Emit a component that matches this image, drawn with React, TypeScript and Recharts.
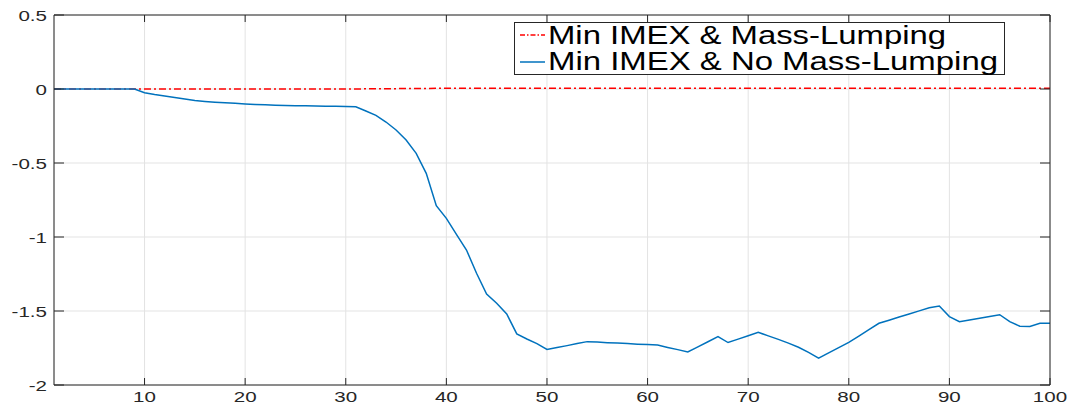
import React from 'react';
import { LineChart, Line, XAxis, YAxis, CartesianGrid, Legend } from 'recharts';

const xValues = [
  1, 2, 3, 4, 5, 6, 7, 8, 9, 10, 11, 12, 13, 14, 15, 16, 17, 18, 19, 20,
  21, 22, 23, 24, 25, 26, 27, 28, 29, 30, 31, 32, 33, 34, 35, 36, 37, 38, 39, 40,
  41, 42, 43, 44, 45, 46, 47, 48, 49, 50, 51, 52, 53, 54, 55, 56, 57, 58, 59, 60,
  61, 62, 63, 64, 65, 66, 67, 68, 69, 70, 71, 72, 73, 74, 75, 76, 77, 78, 79, 80,
  81, 82, 83, 84, 85, 86, 87, 88, 89, 90, 91, 92, 93, 94, 95, 96, 97, 98, 99, 100,
];

const massLumping = [
  0, 0, 0, 0, 0, 0, 0, 0, 0, 0, 0, 0, 0, 0, 0, 0, 0, 0, 0, 0,
  0, 0, 0, 0, 0, 0, 0, 0, 0, 0, 0.0005, 0.001, 0.0015, 0.002, 0.0025, 0.003, 0.0035, 0.004, 0.0045, 0.005,
  0.005, 0.005, 0.005, 0.005, 0.005, 0.005, 0.005, 0.005, 0.005, 0.005, 0.005, 0.005, 0.005, 0.005, 0.005, 0.005, 0.005, 0.005, 0.005, 0.005,
  0.005, 0.005, 0.005, 0.005, 0.005, 0.005, 0.005, 0.005, 0.005, 0.005, 0.005, 0.005, 0.005, 0.005, 0.005, 0.005, 0.005, 0.005, 0.005, 0.005,
  0.005, 0.005, 0.005, 0.005, 0.005, 0.005, 0.005, 0.005, 0.005, 0.005, 0.005, 0.005, 0.005, 0.005, 0.005, 0.005, 0.005, 0.005, 0.005, 0.005,
];

const noMassLumping = [
  0, 0, 0, 0, 0, 0, 0, 0, 0, -0.025, -0.037, -0.047, -0.058, -0.068, -0.078, -0.084, -0.089, -0.093, -0.097, -0.101,
  -0.104, -0.106, -0.109, -0.111, -0.113, -0.114, -0.115, -0.116, -0.117, -0.118, -0.12, -0.149, -0.178, -0.223, -0.277, -0.345, -0.435, -0.57, -0.788, -0.874,
  -0.982, -1.088, -1.245, -1.385, -1.448, -1.52, -1.655, -1.689, -1.72, -1.76, -1.747, -1.734, -1.72, -1.707, -1.71, -1.714, -1.717, -1.72, -1.724, -1.727,
  -1.73, -1.746, -1.761, -1.777, -1.742, -1.708, -1.673, -1.713, -1.69, -1.667, -1.644, -1.668, -1.692, -1.717, -1.745, -1.78, -1.818, -1.783, -1.748, -1.712,
  -1.669, -1.626, -1.583, -1.562, -1.541, -1.52, -1.499, -1.478, -1.466, -1.538, -1.572, -1.561, -1.549, -1.537, -1.525, -1.572, -1.603, -1.605, -1.583, -1.583,
];

const xTicks = [10, 20, 30, 40, 50, 60, 70, 80, 90, 100];
const yTicks = [-2, -1.5, -1, -0.5, 0, 0.5];
const seriesNames = ['Min IMEX & Mass-Lumping', 'Min IMEX & No Mass-Lumping'];
const seriesColors = ['#ff0000', '#0072bd'];

const data = xValues.map((x, i) => ({ x, ml: massLumping[i], nml: noMassLumping[i] }));

const FONT = '"Liberation Sans", Arial, Helvetica, sans-serif';
const AXIS = '#262626';
const STRETCH = 1.37;
const charW = (c: string) => (c === '.' ? 0.278 : c === '-' ? 0.333 : 0.556);
const textW = (s: string, size: number) =>
  s.split('').reduce((a, c) => a + charW(c), 0) * size * STRETCH;

const BottomTick = (props: any) => {
  const { x, y, payload } = props;
  const label = String(payload.value);
  return (
    <g>
      <line x1={x} y1={y} x2={x} y2={y - 7} stroke={AXIS} strokeWidth={1} />
      <text
        x={x}
        y={y + 17}
        textAnchor="middle"
        fontSize={15}
        fontFamily={FONT}
        fill={AXIS}
        textLength={textW(label, 15)}
        lengthAdjust="spacingAndGlyphs"
      >
        {label}
      </text>
    </g>
  );
};

const TopTick = (props: any) => {
  const { x, y } = props;
  return <line x1={x} y1={y} x2={x} y2={y + 7} stroke={AXIS} strokeWidth={1} />;
};

const LeftTick = (props: any) => {
  const { x, y, payload } = props;
  const label = String(payload.value);
  return (
    <g>
      <line x1={x} y1={y} x2={x + 10} y2={y} stroke={AXIS} strokeWidth={1} />
      <text
        x={x - 7}
        y={y + 5.5}
        textAnchor="end"
        fontSize={15}
        fontFamily={FONT}
        fill={AXIS}
        textLength={textW(label, 15)}
        lengthAdjust="spacingAndGlyphs"
      >
        {label}
      </text>
    </g>
  );
};

const RightTick = (props: any) => {
  const { x, y } = props;
  return <line x1={x} y1={y} x2={x - 10} y2={y} stroke={AXIS} strokeWidth={1} />;
};

const LegendBox = () => (
  <div
    style={{
      width: 491,
      height: 53,
      boxSizing: 'border-box',
      border: `1px solid ${AXIS}`,
      background: '#ffffff',
      overflow: 'visible',
    }}
  >
    <svg width={489} height={51} style={{ display: 'block', overflow: 'visible' }}>
      <line x1={5} y1={12} x2={30} y2={12} stroke={seriesColors[0]} strokeWidth={1.5} strokeDasharray="5 2 1.5 2" />
      <text x={33} y={21} fontSize={25} fontFamily={FONT} fill="#000" textLength={398} lengthAdjust="spacingAndGlyphs">
        {seriesNames[0]}
      </text>
      <line x1={5} y1={39} x2={30} y2={39} stroke={seriesColors[1]} strokeWidth={1.5} />
      <text x={33} y={46.5} fontSize={25} fontFamily={FONT} fill="#000" textLength={450} lengthAdjust="spacingAndGlyphs">
        {seriesNames[1]}
      </text>
    </svg>
  </div>
);

export default function App() {
  return (
    <div style={{ position: 'absolute', left: 0, top: 0, width: 1070, height: 405, background: '#fff' }}>
      <LineChart width={1070} height={405} data={data} margin={{ top: 14, right: 19, bottom: 0, left: 0 }}>
        <CartesianGrid stroke="#e3e3e3" strokeWidth={1} />
        <XAxis
          dataKey="x"
          type="number"
          domain={[1, 100]}
          ticks={xTicks}
          allowDataOverflow
          height={20}
          stroke={AXIS}
          tickLine={false}
          tickSize={0}
          tickMargin={0}
          tick={<BottomTick />}
        />
        <XAxis
          xAxisId="top"
          orientation="top"
          dataKey="x"
          type="number"
          domain={[1, 100]}
          ticks={xTicks}
          allowDataOverflow
          height={1}
          stroke={AXIS}
          tickLine={false}
          tickSize={0}
          tickMargin={0}
          tick={<TopTick />}
        />
        <YAxis
          type="number"
          domain={[-2, 0.5]}
          ticks={yTicks}
          allowDataOverflow
          width={54}
          stroke={AXIS}
          tickLine={false}
          tickSize={0}
          tickMargin={0}
          tick={<LeftTick />}
        />
        <YAxis
          yAxisId="right"
          orientation="right"
          type="number"
          domain={[-2, 0.5]}
          ticks={yTicks}
          allowDataOverflow
          width={1}
          stroke={AXIS}
          tickLine={false}
          tickSize={0}
          tickMargin={0}
          tick={<RightTick />}
        />
        <Legend
          layout="horizontal"
          verticalAlign="middle"
          align="center"
          wrapperStyle={{ top: 22, left: 514, width: 491, height: 53 }}
          content={<LegendBox />}
        />
        <Line
          dataKey="ml"
          name={seriesNames[0]}
          stroke={seriesColors[0]}
          strokeWidth={1.5}
          strokeDasharray="7 3 2 3"
          dot={false}
          isAnimationActive={false}
        />
        <Line
          dataKey="nml"
          name={seriesNames[1]}
          stroke={seriesColors[1]}
          strokeWidth={1.5}
          dot={false}
          isAnimationActive={false}
        />
      </LineChart>
    </div>
  );
}
